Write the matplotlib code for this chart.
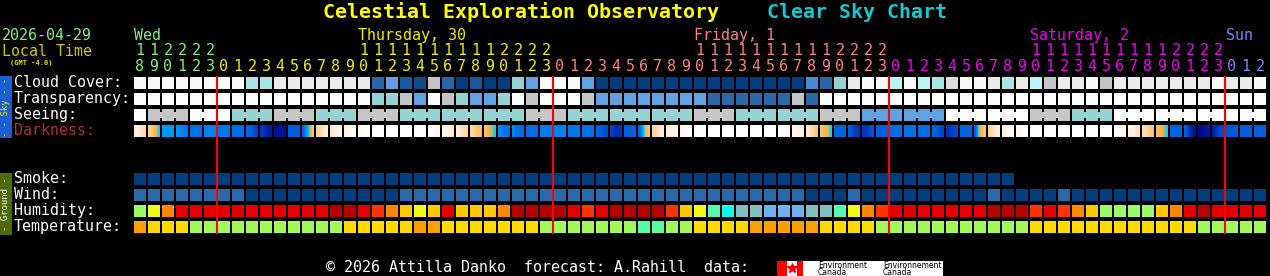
import numpy as np
import matplotlib
matplotlib.use('Agg')
import matplotlib.pyplot as plt
from matplotlib.colors import LinearSegmentedColormap
from matplotlib.patches import Rectangle
from matplotlib.transforms import blended_transform_factory

# ---- data (one string chunk per day: Wed 18-23, Thu, Fri, Sat, Sun 0-2) ----
days = ['Wed', 'Thursday, 30', 'Friday, 1', 'Saturday, 2', 'Sun']
day_colors = ['#80f080', '#f0f000', '#ff8080', '#f000f0', '#8080ff']
day_hours = [[18, 19, 20, 21, 22, 23], list(range(24)), list(range(24)), list(range(24)), [0, 1, 2]]

cloud = ["WWWWWW", "WWCCLLLLLLL3521G30200T5W", "WW500000000000000043TLWWc",
         "WcCMWWLCLcGLLWGLLLLLLLWL", "LWW"]
transparency = ["WWWWWW", "WWWWWWWWWWWTTG5WGT55TWGW", "WWG55555555333333G3WWWWW",
                "WWWWWWWWWWWWWWWWWWWWWWWW", "WWW"]
seeing = ["WGGGWW", "WTTTGGGTTTGGGTTTTTTTTTGG", "GTTTTTTTTTGGGTTTTTTGGG55",
          "5555WWWWWWGGGTTTWWWWWWWW", "WWW"]
smoke = ["000000", "000000000000000000000000", "000000000000000000000000",
         "000000000", ""]
wind = ["333333", "330000000000033333333333", "333333333333333333000300",
        "000000030000300000000000", "000"]
humidity = ["gyORRR", "RRRRRRRRDDRrOoyoRoooODDD", "DRrRDDDDroyacttbbbttayOr",
            "RRRRRRRDDDrRrOoggggoORDR", "RRR"]
temperature = ["Oyyygg", "gggggggggyyyyyOOyyyyyyyg", "ggggggaaggyyyyOOOOOyyyyg",
               "ggggggggggyyyyyyyyyyyygg", "ggg"]

# darkness: 4 samples per hour, 0 = daylight ... 1 = darkest
darkness = [
    [0.16, 0.2, 0.25, 0.3], [0.33, 0.38, 0.44, 0.5], [0.58, 0.58, 0.58, 0.58],
    [0.6, 0.64, 0.68, 0.7], [0.72, 0.72, 0.72, 0.72], [0.66, 0.66, 0.66, 0.66],
    # Thu
    [0.7, 0.7, 0.7, 0.7], [0.74, 0.74, 0.74, 0.74], [0.76, 0.79, 0.83, 0.86],
    [0.88, 0.91, 0.94, 0.95], [0.97, 0.98, 0.98, 0.97], [0.8, 0.8, 0.8, 0.8],
    [0.78, 0.58, 0.5, 0.4], [0.32, 0.28, 0.24, 0.2], [0.22, 0.18, 0.14, 0.1],
    [0.14, 0.1, 0.06, 0.03], [0.06, 0.03, 0.0, 0.0], [0, 0, 0, 0], [0, 0, 0, 0],
    [0, 0, 0, 0], [0, 0, 0, 0], [0.0, 0.03, 0.06, 0.1], [0.1, 0.14, 0.18, 0.22],
    [0.2, 0.24, 0.28, 0.3], [0.3, 0.34, 0.38, 0.42], [0.4, 0.44, 0.47, 0.5],
    [0.62, 0.68, 0.72, 0.74], [0.64, 0.72, 0.73, 0.73], [0.74, 0.74, 0.74, 0.74],
    [0.68, 0.68, 0.68, 0.68],
    # Fri
    [0.66, 0.66, 0.66, 0.66], [0.7, 0.7, 0.7, 0.7], [0.72, 0.72, 0.72, 0.72],
    [0.77, 0.79, 0.82, 0.84], [0.86, 0.9, 0.92, 0.9], [0.79, 0.79, 0.79, 0.79],
    [0.78, 0.56, 0.46, 0.4], [0.32, 0.28, 0.24, 0.2], [0.2, 0.16, 0.12, 0.1],
    [0.12, 0.08, 0.05, 0.02], [0.04, 0.02, 0.0, 0.0], [0, 0, 0, 0], [0, 0, 0, 0],
    [0, 0, 0, 0], [0, 0, 0, 0], [0, 0, 0, 0], [0.0, 0.02, 0.05, 0.08],
    [0.1, 0.14, 0.18, 0.2], [0.22, 0.27, 0.32, 0.36], [0.38, 0.42, 0.45, 0.5],
    [0.78, 0.78, 0.78, 0.78], [0.8, 0.84, 0.88, 0.9], [0.88, 0.9, 0.86, 0.82],
    [0.79, 0.79, 0.79, 0.79],
    # Sat
    [0.74, 0.74, 0.74, 0.74], [0.72, 0.72, 0.72, 0.72], [0.74, 0.74, 0.74, 0.74],
    [0.77, 0.8, 0.83, 0.86], [0.9, 0.88, 0.86, 0.84], [0.78, 0.78, 0.78, 0.78],
    [0.78, 0.5, 0.42, 0.38], [0.32, 0.28, 0.22, 0.18], [0.18, 0.14, 0.1, 0.06],
    [0.1, 0.06, 0.03, 0.0], [0, 0, 0, 0], [0, 0, 0, 0], [0, 0, 0, 0], [0, 0, 0, 0],
    [0, 0, 0, 0], [0, 0, 0, 0], [0.0, 0.04, 0.08, 0.12], [0.14, 0.18, 0.22, 0.26],
    [0.26, 0.3, 0.34, 0.38], [0.4, 0.44, 0.47, 0.5], [0.78, 0.78, 0.78, 0.78],
    [0.8, 0.86, 0.94, 0.98], [1.0, 1.0, 0.98, 0.96], [0.94, 0.9, 0.86, 0.84],
    # Sun
    [0.81, 0.81, 0.81, 0.81], [0.8, 0.8, 0.8, 0.8], [0.8, 0.8, 0.8, 0.8],
]

# ---- colours ----
cloud_pal = {'W': '#f9f9f9', 'L': '#ebebeb', 'M': '#dcdcdc', 'G': '#c4c4c4',
             'c': '#b8f6f6', 'C': '#a8e6e6', 'T': '#96d2d2', '5': '#62a2e2',
             '4': '#4a8ad0', '3': '#2866a6', '2': '#1b5a9a', '1': '#0e4c8c', '0': '#023e7e'}
transp_pal = {'W': '#fdfdfd', 'T': '#96d2d2', 'G': '#c4c4c4', '5': '#62a2e2', '3': '#2a68a8'}
seeing_pal = {'W': '#fdfdfd', 'T': '#96d4d4', 'G': '#c6c6c6', '5': '#62a2e2'}
smoke_pal = {'0': '#023e7e'}
wind_pal = {'0': '#023e7e', '3': '#2a6aaa'}
hum_pal = {'g': '#9afa6a', 'y': '#eefa18', 'o': '#ffc800', 'O': '#ff8800', 'r': '#ff3300',
           'R': '#e40000', 'D': '#b80000', 'a': '#58f8b0', 'c': '#10fae8',
           't': '#80c0c0', 'b': '#70b0f0'}
temp_pal = {'O': '#ffa000', 'y': '#ffdc00', 'g': '#a2fa5a', 'a': '#5afaa0'}

dark_cmap = LinearSegmentedColormap.from_list('dark', [
    (0.0, '#ffffff'), (0.1, '#fff6ec'), (0.2, '#ffeed8'), (0.3, '#fdd8a8'),
    (0.4, '#fbc060'), (0.46, '#f8b040'), (0.5, '#20d0e8'), (0.56, '#00a0f8'),
    (0.62, '#0090f4'), (0.7, '#0078ec'), (0.8, '#0060dc'), (0.9, '#0034b8'),
    (1.0, '#000a8c')])

mono = 'DejaVu Sans Mono'
fig = plt.figure(figsize=(12.7, 2.76), dpi=100, facecolor='black')

ov = fig.add_axes([0, 0, 1, 1])
ov.set_xlim(0, 1270)
ov.set_ylim(276, 0)
ov.axis('off')

grid = fig.add_axes([133 / 1270, 1 - 235 / 276, 1134 / 1270, 160 / 276])
grid.patch.set_alpha(0)


def draw_row(row, chunks, palette, links=False):
    codes = ''.join(chunks)
    x = np.arange(len(codes)) + 0.5
    cols = [palette[c] for c in codes]
    grid.bar(x, 0.75, width=12 / 14, bottom=row + 0.125, color=cols, linewidth=0)
    if links:
        for j in range(len(codes) - 1):
            if j % 3 in (1, 2) and codes[j] == codes[j + 1]:
                grid.bar(j + 1, 6 / 16, width=3 / 14, bottom=row + 0.5 - 3 / 16,
                         color=cols[j], linewidth=0)


draw_row(0, cloud, cloud_pal)
draw_row(1, transparency, transp_pal)
draw_row(2, seeing, seeing_pal, links=True)
for i, samples in enumerate(darkness):
    grid.imshow(np.array([samples]), cmap=dark_cmap, vmin=0, vmax=1, aspect='auto',
                interpolation='bilinear',
                extent=[i + 1 / 14, i + 13 / 14, 3.875, 3.125])
draw_row(6, smoke, smoke_pal)
draw_row(7, wind, wind_pal)
draw_row(8, humidity, hum_pal)
draw_row(9, temperature, temp_pal)

# midnight lines and hour labels
col = 0
for d, (name, hours, dc) in enumerate(zip(days, day_hours, day_colors)):
    if d > 0:
        grid.vlines(col, 0.06, 9.94, color='#ff0000', lw=1.5)
    first = None
    for k, h in enumerate(hours):
        if h >= 10:
            grid.text(col + k + 0.5, -1.25, str(h // 10), color=dc, ha='center',
                      va='baseline', family=mono, fontsize=10.8)
            if first is None:
                first = k
        grid.text(col + k + 0.5, -0.25, str(h % 10), color=dc, ha='center',
                  va='baseline', family=mono, fontsize=10.8)
    first = 0 if first is None else first
    grid.text(col + first + 1 / 14, -2.19, name, color=dc, ha='left', va='baseline',
              family=mono, fontsize=10.8)
    col += len(hours)

grid.set_xlim(0, 81)
grid.set_ylim(10, 0)
grid.axis('off')

# row labels
lab = blended_transform_factory(ov.transData, grid.transData)
row_labels = [(0, 'Cloud Cover:', 'white'), (1, 'Transparency:', 'white'),
              (2, 'Seeing:', 'white'), (3, 'Darkness:', '#b03030'),
              (6, 'Smoke:', 'white'), (7, 'Wind:', 'white'),
              (8, 'Humidity:', 'white'), (9, 'Temperature:', 'white')]
for r, t, c in row_labels:
    grid.text(14, r + 0.78, t, transform=lab, color=c, family=mono, fontsize=10.8,
              va='baseline', ha='left')

# side bars
ov.add_patch(Rectangle((0, 76), 12, 62, color='#1a5fd8', lw=0))
ov.text(6, 107, '- - Sky - -', rotation=90, color='#f0f000', family=mono,
        fontsize=6.5, ha='center', va='center')
ov.add_patch(Rectangle((0, 173), 12, 62, color='#4f6a00', lw=0))
ov.text(6, 204, '- Ground -', rotation=90, color='white', family=mono,
        fontsize=6.5, ha='center', va='center')

# header
ov.text(323, 18, 'Celestial Exploration Observatory', color='#ffff00', family=mono,
        fontsize=14.4, fontweight='bold', va='baseline')
ov.text(767, 18, 'Clear Sky Chart', color='#14c8d2', family=mono,
        fontsize=14.4, fontweight='bold', va='baseline')
ov.text(2, 40, '2026-04-29', color='#80f080', family=mono, fontsize=10.8, va='baseline')
ov.text(2, 56, 'Local Time', color='#c8c800', family=mono, fontsize=10.8, va='baseline')
ov.text(10, 65, '(GMT -4.0)', color='#e0e000', family=mono, fontsize=5,
        fontweight='bold', va='baseline')

# footer
ov.text(326, 272, '\u00a9 2026 Attilla Danko  forecast: A.Rahill  data:', color='white',
        family=mono, fontsize=10.8, va='baseline')
ov.add_patch(Rectangle((777, 261), 166, 15, color='white', lw=0))
ov.add_patch(Rectangle((777, 261), 10, 15, color='#ff0000', lw=0))
ov.add_patch(Rectangle((797, 261), 6, 15, color='#ff0000', lw=0))
ov.plot([792], [268], marker='*', color='#ff0000', markersize=7)
for x0, t1 in [(818, 'Environment'), (883, 'Environnement')]:
    ov.text(x0, 267.5, t1, color='black', fontsize=5.5, va='baseline')
    ov.text(x0, 275, 'Canada', color='black', fontsize=5.5, va='baseline')

fig.savefig('out.png', dpi=100, facecolor='black')
